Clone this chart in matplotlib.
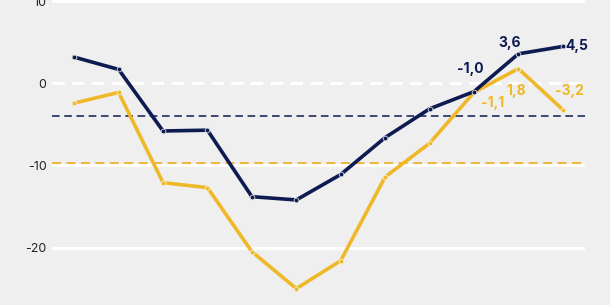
import matplotlib
matplotlib.use("Agg")
import matplotlib.pyplot as plt

periods = list(range(12))
navy_values = [3.2, 1.7, -5.8, -5.7, -13.8, -14.2, -11.1, -6.6, -3.1, -1.0, 3.6, 4.5]
yellow_values = [-2.4, -1.1, -12.1, -12.7, -20.5, -25.0, -21.6, -11.4, -7.3, -1.1, 1.8, -3.2]
navy_avg = -4.0
yellow_avg = -9.7
yticks = [10, 0, -10, -20]
ytick_labels = ["10", "0", "-10", "-20"]

NAVY = "#0e1a52"
YELLOW = "#eeb829"
BG = "#efefef"

plt.rcParams['font.family'] = ['Inter', 'DejaVu Sans']

fig = plt.figure(figsize=(6.1, 3.05), dpi=100, facecolor=BG)
ax = fig.add_axes([52/610, 0, 533/610, 1], facecolor=BG)
ax.set_xlim(-0.5, 11.5)
ax.set_ylim(-27.0, 10.16)

for s in ax.spines.values():
    s.set_visible(False)
ax.set_xticks([])
ax.set_yticks(yticks)
ax.set_yticklabels(ytick_labels, fontsize=9, color="#222222")
ax.tick_params(axis='y', length=0, pad=4)

for t in yticks:
    if t == 0:
        ax.axhline(t, color="white", lw=2.2, ls=(0, (4, 2.5)), zorder=1)
    else:
        ax.axhline(t, color="white", lw=2.0, zorder=1)

ax.axhline(navy_avg, color=NAVY, lw=1.1, ls=(0, (5, 3)), zorder=2)
ax.axhline(yellow_avg, color="#f0b22a", lw=1.3, ls=(0, (5, 3)), zorder=2)

ax.plot(periods, yellow_values, color=YELLOW, lw=2.6, zorder=3,
        marker='o', ms=3.4, mfc=YELLOW, mec="#f6f0d8", mew=0.6)
ax.plot(periods, navy_values, color=NAVY, lw=2.6, zorder=4,
        marker='o', ms=3.4, mfc=NAVY, mec="#dcdcdc", mew=0.6)

# offsets in pixels from the data point
navy_labels = {9: (-4, 23, 'center'), 10: (-9, 11, 'center'), 11: (3, 0, 'left')}
for i, (dx, dy, ha) in navy_labels.items():
    ax.annotate(f"{navy_values[i]:.1f}".replace('.', ','), (periods[i], navy_values[i]),
                xytext=(dx, dy), textcoords='offset pixels', ha=ha, va='center',
                fontsize=10, fontweight='bold', color=NAVY, zorder=5)

yellow_labels = {9: (19, -11, 'center'), 10: (-2, -22, 'center'), 11: (7, 19, 'center')}
for i, (dx, dy, ha) in yellow_labels.items():
    ax.annotate(f"{yellow_values[i]:.1f}".replace('.', ','), (periods[i], yellow_values[i]),
                xytext=(dx, dy), textcoords='offset pixels', ha=ha, va='center',
                fontsize=10, fontweight='bold', color=YELLOW, zorder=5)

fig.savefig("out.png", dpi=100, facecolor=BG)
